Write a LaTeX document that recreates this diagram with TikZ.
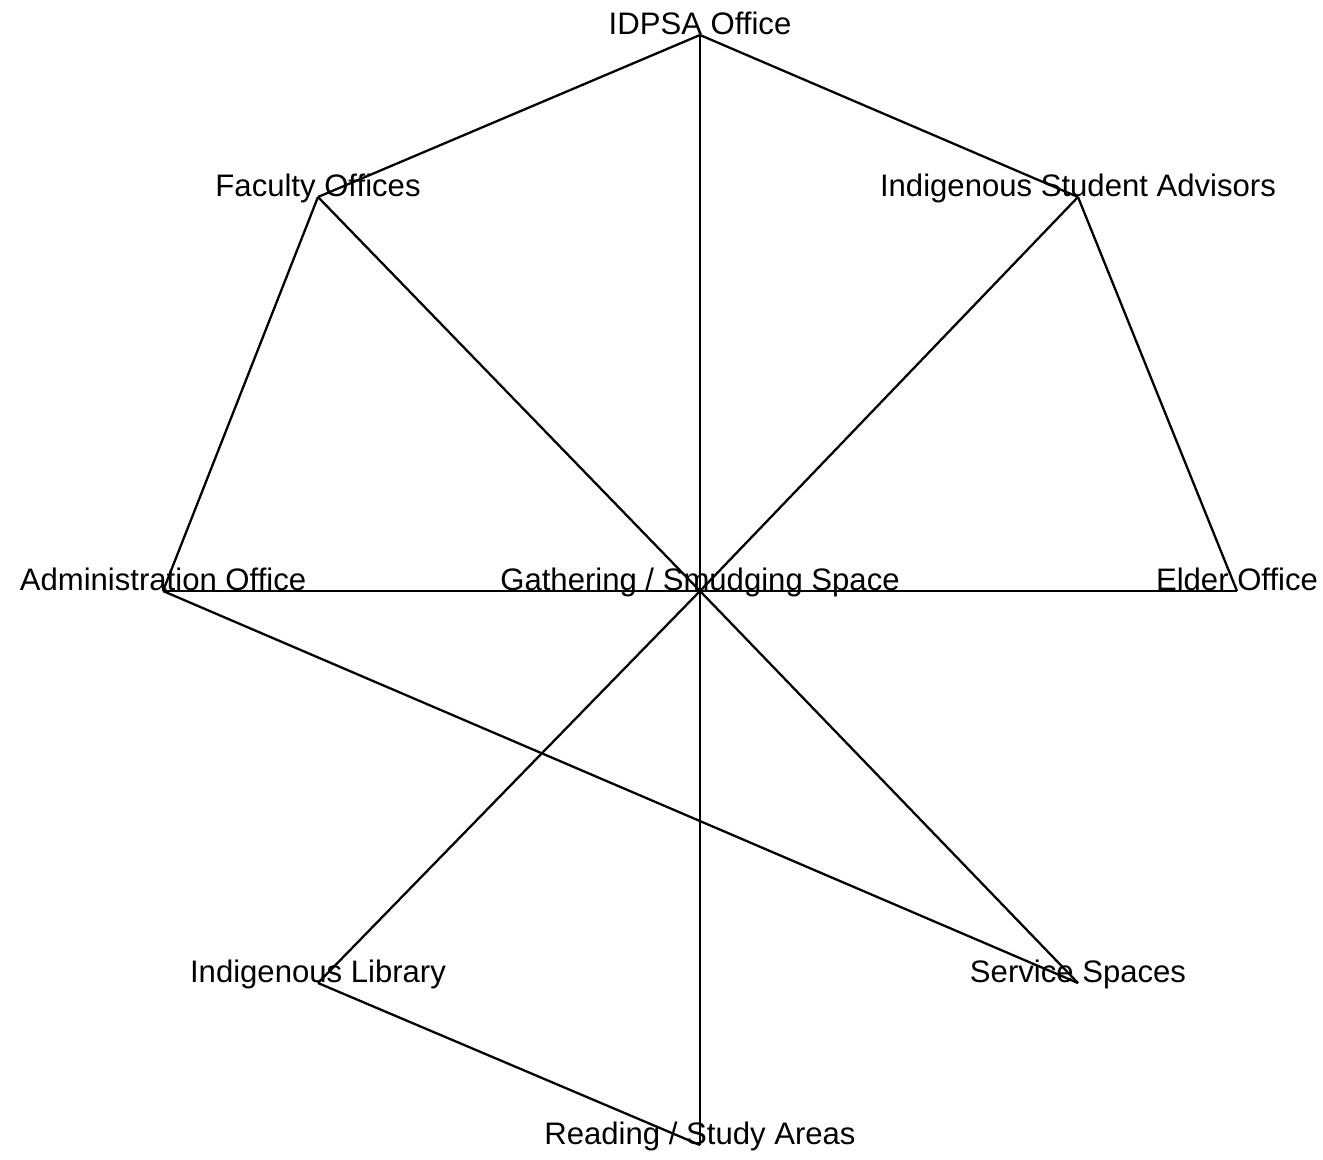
\documentclass[tikz,border=0pt]{standalone}
\usepackage{fontspec}
\setmainfont{Liberation Sans}

\begin{document}
\begin{tikzpicture}[x=0.02cm,y=-0.02cm,line width=1.3pt]
  \tikzstyle{vertex}=[coordinate]
  \tikzstyle{tag}=[anchor=base,inner sep=0pt,yshift=0.01cm,font=\fontsize{17.7}{20}\selectfont]
  \useasboundingbox (0,0) rectangle (1323,1160);

  \node[vertex] (G_c) at (700,591) {};
  \node[vertex] (G_1) at (700,35) {};
  \node[vertex] (G_2) at (318,197) {};
  \node[vertex] (G_3) at (1078,197) {};
  \node[vertex] (G_4) at (163,591) {};
  \node[vertex] (G_5) at (1237,591) {};
  \node[vertex] (G_6) at (318,983) {};
  \node[vertex] (G_7) at (1078,983) {};
  \node[vertex] (G_8) at (700,1145) {};

  \draw (G_1) -- (G_2);
  \draw (G_1) -- (G_3);
  \draw (G_1) -- (G_c);
  \draw (G_2) -- (G_c);
  \draw (G_2) -- (G_4);
  \draw (G_3) -- (G_c);
  \draw (G_3) -- (G_5);
  \draw (G_4) -- (G_c);
  \draw (G_5) -- (G_c);
  \draw (G_4) -- (G_7);
  \draw (G_c) -- (G_6);
  \draw (G_c) -- (G_7);
  \draw (G_c) -- (G_8);
  \draw (G_6) -- (G_8);

  \node[tag] (L_c) at (G_c) {Gathering / Smudging Space};
  \node[tag] (L_1) at (G_1) {IDPSA Office};
  \node[tag] (L_2) at (G_2) {Faculty Offices};
  \node[tag] (L_3) at (G_3) {Indigenous Student Advisors};
  \node[tag] (L_4) at (G_4) {Administration Office};
  \node[tag] (L_5) at (G_5) {Elder Office};
  \node[tag] (L_6) at (G_6) {Indigenous Library};
  \node[tag] (L_7) at (G_7) {Service Spaces};
  \node[tag] (L_8) at (G_8) {Reading / Study Areas};
\end{tikzpicture}
\end{document}
